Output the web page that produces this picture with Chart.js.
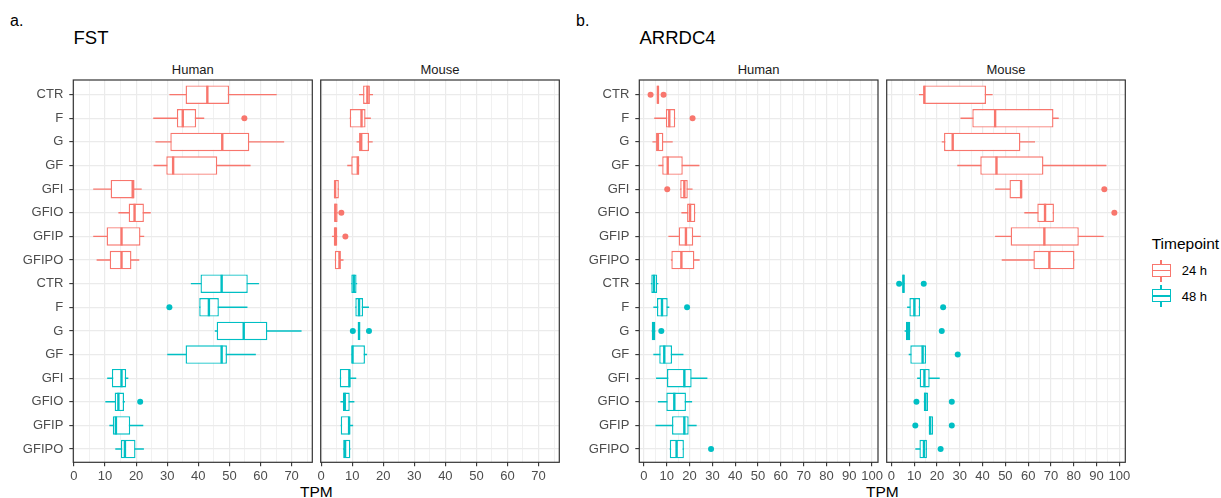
<!DOCTYPE html>
<html>
<head>
<meta charset="utf-8">
<script src="https://cdn.jsdelivr.net/npm/chart.js@4.4.1/dist/chart.umd.min.js"></script>
<style>
  html, body { margin: 0; padding: 0; background: #ffffff; }
  body { width: 1221px; height: 498px; position: relative; overflow: hidden;
         font-family: "Liberation Sans", Arial, sans-serif; }
  canvas { position: absolute; }
  .txt { position: absolute; white-space: nowrap; line-height: 1; }
  .tag { font-size: 16px; color: #000; }
  .title { font-size: 18.5px; color: #000; }
  .strip { font-size: 13px; color: #1a1a1a; transform: translateX(-50%); }
  .axis-title { font-size: 15.5px; color: #000; transform: translateX(-50%); }
  .legend-title { font-size: 15.5px; color: #000; }
  .legend-label { font-size: 13px; color: #000; }
  .key { position: absolute; width: 19px; height: 22px; }
  .key .wh { position: absolute; left: 8.8px; width: 1.4px; }
  .key .bx { position: absolute; left: 0; top: 4.3px; width: 19px; height: 13px; box-sizing: border-box; border: 1.4px solid; background: #fff; }
  .key .md { position: absolute; left: 0; top: 10.3px; width: 19px; height: 1.4px; }
</style>
</head>
<body>

<div class="txt tag" style="left:10px; top:12.6px;">a.</div>
<div class="txt title" style="left:73.5px; top:28.7px;">FST</div>
<div class="txt tag" style="left:576px; top:12.6px;">b.</div>
<div class="txt title" style="left:639.5px; top:28.7px;">ARRDC4</div>

<div class="txt strip" style="left:192.8px; top:62.7px;">Human</div>
<div class="txt strip" style="left:440px; top:62.7px;">Mouse</div>
<div class="txt strip" style="left:758.6px; top:62.7px;">Human</div>
<div class="txt strip" style="left:1006px; top:62.7px;">Mouse</div>

<div class="txt axis-title" style="left:316.3px; top:483.9px;">TPM</div>
<div class="txt axis-title" style="left:882.3px; top:483.9px;">TPM</div>

<div id="legend"></div>

<script>
// ---- categories and timepoints ----
const categories = ['CTR', 'F', 'G', 'GF', 'GFI', 'GFIO', 'GFIP', 'GFIPO'];
const timepoints = ['24 h', '48 h'];
const timepointColors = ['#F8766D', '#00BFC4'];

// ---- box statistics per category: [lower whisker, Q1, median, Q3, upper whisker] (TPM) ----
const fstHuman24 = [
  [30.7, 35.9, 42.9, 49.9, 65.2],
  [25.5, 33.1, 35.0, 39.3, 41.9],
  [26.2, 31.0, 47.7, 56.4, 67.6],
  [25.6, 29.7, 31.9, 46.1, 56.8],
  [6.2, 11.8, 18.9, 19.5, 21.8],
  [14.3, 17.6, 19.5, 22.5, 24.7],
  [6.2, 10.5, 15.3, 21.4, 22.6],
  [7.3, 11.5, 15.3, 18.5, 21.0]
];
const fstHuman48 = [
  [37.6, 40.7, 47.5, 55.9, 59.5],
  [40.3, 40.3, 43.4, 46.6, 55.8],
  [45.3, 45.9, 54.6, 62.2, 73.2],
  [30.0, 35.9, 47.5, 49.2, 58.5],
  [10.7, 12.2, 15.3, 16.8, 17.5],
  [10.1, 13.1, 14.3, 16.1, 16.4],
  [11.4, 12.5, 13.5, 18.1, 22.3],
  [13.3, 15.1, 16.4, 19.8, 22.5]
];
const fstMouse24 = [
  [12.2, 13.5, 14.9, 15.7, 16.7],
  [9.2, 9.2, 13.0, 14.3, 16.0],
  [11.4, 12.2, 12.9, 15.4, 16.6],
  [8.4, 9.7, 11.8, 12.3, 12.3],
  [4.2, 4.2, 4.5, 5.7, 5.7],
  [4.2, 4.2, 4.6, 5.3, 5.3],
  [3.5, 4.2, 4.5, 5.2, 5.2],
  [4.4, 4.4, 5.9, 6.3, 7.2]
];
const fstMouse48 = [
  [9.7, 9.7, 10.5, 11.4, 11.6],
  [11.0, 11.0, 12.2, 13.5, 15.4],
  [12.0, 12.0, 12.2, 12.4, 12.4],
  [9.8, 9.8, 10.1, 14.1, 14.8],
  [6.0, 6.0, 9.1, 9.3, 11.3],
  [6.2, 7.0, 7.6, 9.2, 10.7],
  [6.3, 6.3, 9.0, 9.2, 10.3],
  [7.1, 7.1, 7.7, 9.4, 9.4]
];
const arrdc4Human24 = [
  [5.8, 5.8, 6.1, 6.5, 6.5],
  [4.5, 9.6, 11.1, 13.7, 13.7],
  [3.7, 5.3, 6.1, 8.5, 12.6],
  [6.3, 8.0, 10.4, 17.0, 24.3],
  [15.9, 15.9, 17.7, 19.2, 21.3],
  [16.4, 18.9, 20.2, 22.5, 22.5],
  [10.7, 15.2, 18.4, 21.6, 24.9],
  [11.8, 12.0, 16.4, 22.1, 24.4]
];
const arrdc4Human48 = [
  [3.0, 3.2, 4.4, 5.8, 6.3],
  [4.1, 5.7, 7.9, 10.4, 11.1],
  [3.4, 3.4, 4.1, 5.0, 5.0],
  [4.1, 6.7, 8.9, 12.3, 17.3],
  [5.3, 10.1, 17.7, 20.9, 27.8],
  [6.1, 9.8, 13.3, 18.4, 21.1],
  [5.0, 12.3, 17.7, 19.6, 23.1],
  [11.3, 11.3, 14.3, 17.5, 17.5]
];
const arrdc4Mouse24 = [
  [12.1, 14.0, 14.5, 41.5, 44.4],
  [30.3, 35.5, 45.5, 71.1, 73.4],
  [22.1, 23.1, 26.9, 56.6, 63.0],
  [28.9, 39.0, 46.1, 66.7, 94.3],
  [45.5, 51.8, 56.9, 57.3, 57.3],
  [58.3, 64.0, 67.4, 71.3, 71.3],
  [45.5, 52.3, 67.1, 82.2, 93.1],
  [48.4, 62.3, 69.3, 80.3, 80.3]
];
const arrdc4Mouse48 = [
  [4.8, 4.8, 5.3, 5.8, 5.8],
  [6.9, 7.9, 10.1, 12.6, 12.6],
  [5.8, 6.4, 7.2, 8.3, 8.3],
  [7.6, 8.3, 13.7, 15.2, 15.2],
  [11.3, 12.4, 14.5, 16.8, 21.2],
  [14.2, 14.2, 14.9, 16.1, 16.1],
  [16.4, 16.4, 17.0, 18.3, 18.3],
  [10.5, 12.3, 14.3, 15.6, 15.6]
];

// ---- outlying samples: [category, timepoint, TPM] ----
const fstHumanOutliers = [['F', '24 h', 54.8], ['F', '48 h', 30.7], ['GFIO', '48 h', 21.3]];
const fstMouseOutliers = [['GFIO', '24 h', 6.5], ['GFIP', '24 h', 7.8], ['G', '48 h', 10.2], ['G', '48 h', 15.4]];
const arrdc4HumanOutliers = [
  ['CTR', '24 h', 2.9], ['CTR', '24 h', 8.6], ['F', '24 h', 21.3], ['GFI', '24 h', 10.2],
  ['F', '48 h', 18.9], ['G', '48 h', 7.6], ['GFIPO', '48 h', 29.4]
];
const arrdc4MouseOutliers = [
  ['GFI', '24 h', 93.4], ['GFIO', '24 h', 97.8],
  ['CTR', '48 h', 3.4], ['CTR', '48 h', 14.2], ['F', '48 h', 22.7], ['G', '48 h', 22.1],
  ['GF', '48 h', 29.1], ['GFIO', '48 h', 11.0], ['GFIO', '48 h', 26.5],
  ['GFIP', '48 h', 10.5], ['GFIP', '48 h', 26.5], ['GFIPO', '48 h', 21.6]
];

// ---- axis ticks ----
const fstTickLabels = [0, 10, 20, 30, 40, 50, 60, 70];
const fstGridValues = [0, 5, 10, 15, 20, 25, 30, 35, 40, 45, 50, 55, 60, 65, 70, 75];
const arrdc4TickLabels = [0, 10, 20, 30, 40, 50, 60, 70, 80, 90, 100];
const arrdc4GridValues = [0, 5, 10, 15, 20, 25, 30, 35, 40, 45, 50, 55, 60, 65, 70, 75, 80, 85, 90, 95, 100];
const rowLabels = timepoints.flatMap(() => categories);

// ---- drawing ----
const FONT = '"Liberation Sans", Arial, sans-serif';
const PANEL_TOP = 80, PANEL_BOTTOM = 462.3;
const Y_AXIS_W = 60, X_AXIS_H = 32, PAD = 16;

function buildDatasets(stats24, stats48, outliers) {
  const sets = [];
  [stats24, stats48].forEach((stats, t) => {
    const color = timepointColors[t];
    const rows = stats.map((s, c) => ({ y: t * categories.length + c, lo: s[0], q1: s[1], med: s[2], q3: s[3], hi: s[4] }));
    // whisker line
    sets.push({ type: 'bar', indexAxis: 'y', grouped: false, order: 3,
      data: rows.map(r => ({ x: [r.lo, r.hi], y: r.y })),
      backgroundColor: color, borderWidth: 0, barThickness: 1.4, inflateAmount: 0 });
    // box from Q1 to Q3
    sets.push({ type: 'bar', indexAxis: 'y', grouped: false, order: 2,
      data: rows.map(r => ({ x: [r.q1, r.q3], y: r.y })),
      backgroundColor: '#ffffff', borderColor: color, borderWidth: 1.4, borderSkipped: false,
      barThickness: 18.5, inflateAmount: 0 });
    // median bar
    sets.push({ type: 'scatter', order: 1,
      data: rows.map(r => ({ x: r.med, y: r.y })),
      pointStyle: 'line', pointRotation: 90, pointRadius: 9, pointHoverRadius: 9,
      pointBorderColor: color, pointBorderWidth: 2.4 });
    // outliers
    const pts = outliers.filter(o => o[1] === timepoints[t])
      .map(o => ({ x: o[2], y: t * categories.length + categories.indexOf(o[0]) }));
    sets.push({ type: 'scatter', order: 0, data: pts,
      pointStyle: 'circle', pointRadius: 3, pointHoverRadius: 3,
      pointBackgroundColor: color, pointBorderWidth: 0 });
  });
  return sets;
}

const panelBorder = {
  id: 'panelBorder',
  afterDraw(chart) {
    const a = chart.chartArea, ctx = chart.ctx;
    ctx.save();
    ctx.strokeStyle = '#333333';
    ctx.lineWidth = 1.2;
    ctx.strokeRect(a.left, a.top, a.right - a.left, a.bottom - a.top);
    ctx.restore();
  }
};

function makeFacet(left, right, xMin, xMax, gridValues, tickLabels, showY, datasets) {
  const yw = showY ? Y_AXIS_W : 0;
  const cLeft = Math.floor(left - yw - PAD);
  const cRight = Math.ceil(right + PAD);
  const cTop = PANEL_TOP - PAD;
  const cBottom = 498;
  const canvas = document.createElement('canvas');
  canvas.width = cRight - cLeft;
  canvas.height = cBottom - cTop;
  canvas.style.left = cLeft + 'px';
  canvas.style.top = cTop + 'px';
  canvas.style.width = canvas.width + 'px';
  canvas.style.height = canvas.height + 'px';
  document.body.appendChild(canvas);

  const isMajor = v => tickLabels.includes(v);
  new Chart(canvas, {
    type: 'bar',
    data: { datasets },
    plugins: [panelBorder],
    options: {
      responsive: false,
      animation: false,
      devicePixelRatio: 1,
      events: [],
      layout: { padding: {
        left: left - yw - cLeft,
        right: cRight - right,
        top: PANEL_TOP - cTop,
        bottom: cBottom - PANEL_BOTTOM - X_AXIS_H
      } },
      plugins: { legend: { display: false }, tooltip: { enabled: false }, title: { display: false } },
      scales: {
        x: {
          type: 'linear', position: 'bottom', min: xMin, max: xMax, offset: false, beginAtZero: false,
          afterBuildTicks: s => { s.ticks = gridValues.map(v => ({ value: v })); },
          afterFit: s => { s.height = X_AXIS_H; },
          ticks: {
            autoSkip: false, maxRotation: 0, padding: 2, color: '#4D4D4D',
            font: { family: FONT, size: 13 },
            callback: v => (isMajor(v) ? String(v) : '')
          },
          grid: {
            offset: false, drawTicks: true, tickLength: 4,
            color: '#EBEBEB',
            lineWidth: ctx => (ctx.tick && isMajor(ctx.tick.value) ? 1.2 : 0.7),
            tickColor: ctx => (ctx.tick && isMajor(ctx.tick.value) ? '#333333' : 'rgba(0,0,0,0)'),
            tickWidth: 1.1
          },
          border: { display: false }
        },
        y: {
          type: 'linear', position: 'left', reverse: true, min: -0.62, max: 15.56, offset: false,
          afterBuildTicks: s => { s.ticks = rowLabels.map((_, i) => ({ value: i })); },
          afterFit: s => { s.width = yw; },
          ticks: {
            display: showY, autoSkip: false, padding: 6, color: '#4D4D4D',
            font: { family: FONT, size: 13 },
            callback: v => rowLabels[v]
          },
          grid: {
            offset: false, drawTicks: showY, tickLength: 4,
            color: '#EBEBEB', lineWidth: 1.2,
            tickColor: '#333333', tickWidth: 1.1
          },
          border: { display: false }
        }
      }
    }
  });
}

makeFacet(73.3, 312.3, -0.2, 76.65, fstGridValues, fstTickLabels, true,
  buildDatasets(fstHuman24, fstHuman48, fstHumanOutliers));
makeFacet(320.7, 559.3, -0.15, 76.7, fstGridValues, fstTickLabels, false,
  buildDatasets(fstMouse24, fstMouse48, fstMouseOutliers));
makeFacet(639.3, 878.0, -2.05, 102.6, arrdc4GridValues, arrdc4TickLabels, true,
  buildDatasets(arrdc4Human24, arrdc4Human48, arrdc4HumanOutliers));
makeFacet(886.7, 1125.3, -2.05, 102.6, arrdc4GridValues, arrdc4TickLabels, false,
  buildDatasets(arrdc4Mouse24, arrdc4Mouse48, arrdc4MouseOutliers));

// ---- legend ----
(function buildLegend() {
  const host = document.getElementById('legend');
  const title = document.createElement('div');
  title.className = 'txt legend-title';
  title.style.left = '1151.7px';
  title.style.top = '236.2px';
  title.textContent = 'Timepoint';
  host.appendChild(title);
  const centers = [270.7, 296.0];
  timepoints.forEach((tp, i) => {
    const color = timepointColors[i];
    const cy = centers[i];
    const key = document.createElement('div');
    key.className = 'key';
    key.style.left = '1151.7px';
    key.style.top = (cy - 11) + 'px';
    key.innerHTML =
      `<div class="wh" style="top:0;height:4.5px;background:${color}"></div>` +
      `<div class="wh" style="top:17.3px;height:4.7px;background:${color}"></div>` +
      `<div class="bx" style="border-color:${color}"></div>` +
      `<div class="md" style="background:${color}"></div>`;
    host.appendChild(key);
    const lab = document.createElement('div');
    lab.className = 'txt legend-label';
    lab.style.left = '1181.7px';
    lab.style.top = (cy - 6.3) + 'px';
    lab.textContent = tp;
    host.appendChild(lab);
  });
})();
</script>
</body>
</html>
